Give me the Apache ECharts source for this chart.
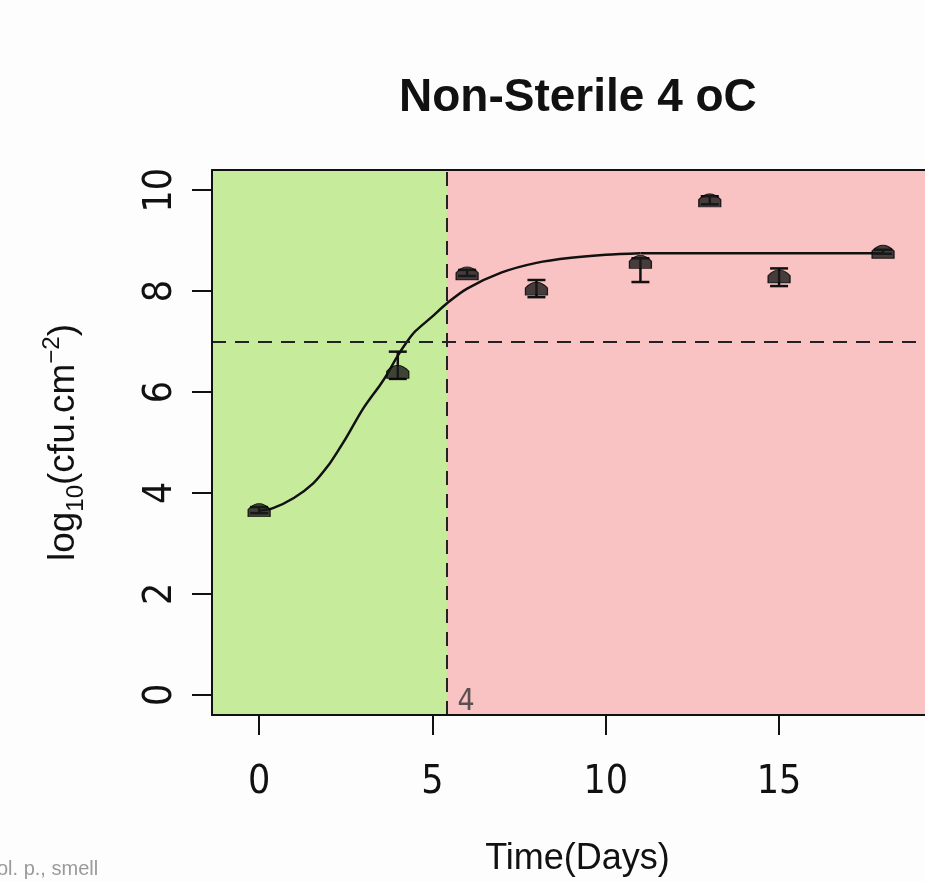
<!DOCTYPE html>
<html>
<head>
<meta charset="utf-8">
<title>Non-Sterile 4 oC</title>
<script src="https://cdn.jsdelivr.net/npm/echarts@6/dist/echarts.min.js"></script>
<style>
  html, body { margin: 0; padding: 0; background: #fdfdfd; }
  #chart { width: 925px; height: 882px; }
</style>
</head>
<body>
<div id="chart"></div>
<script>
'use strict';

// observed counts (days / log10 cfu.cm-2)
var days = [0, 4, 6, 8, 11, 13, 15, 18];
var means = [3.66, 6.40, 8.35, 8.05, 8.58, 9.80, 8.29, 8.78];
var lows = [3.60, 6.26, 8.30, 7.88, 8.18, 9.72, 8.10, 8.74];
var highs = [3.72, 6.80, 8.42, 8.22, 8.65, 9.88, 8.45, 8.82];

// fitted growth curve
var curveX = [0, 0.4, 1, 1.56, 2, 2.28, 2.5, 3, 3.5, 3.7, 4, 4.27, 4.5, 5, 5.42, 6, 7, 8, 9, 10, 11];
var curveY = [3.65, 3.70, 3.90, 4.19, 4.55, 4.84, 5.08, 5.67, 6.15, 6.36, 6.72, 7.00, 7.20, 7.50, 7.76, 8.05, 8.37, 8.56, 8.66, 8.72, 8.75];

// plateau from day 11 on
var plateauX = [11, 18];
var plateauY = [8.75, 8.75];

var xTicks = [0, 5, 10, 15];
var yTicks = [0, 2, 4, 6, 8, 10];

var limitLog = 7;        // spoilage threshold
var shelfLife = 5.42;    // boundary between the two zones
var shelfLabel = '4';

var xMin = -1.36, xMax = 19.21;   // plot is cut at the right edge
var yMin = -0.4, yMax = 10.4;

var tickFont = '"Liberation Sans Narrow", "DejaVu Sans Condensed", Arial, sans-serif';
var nameFont = '"Liberation Sans", Arial, sans-serif';

function zip(a, b) {
    return a.map(function (v, i) { return [v, b[i]]; });
}

var errData = days.map(function (d, i) { return [d, lows[i], highs[i]]; });

function renderErr(params, api) {
    var lo = api.coord([api.value(0), api.value(1)]);
    var hi = api.coord([api.value(0), api.value(2)]);
    var w = 9;
    var st = { stroke: '#111', lineWidth: 2.5 };
    return {
        type: 'group',
        children: [
            { type: 'line', shape: { x1: lo[0], y1: lo[1], x2: hi[0], y2: hi[1] }, style: st },
            { type: 'line', shape: { x1: lo[0] - w, y1: lo[1], x2: lo[0] + w, y2: lo[1] }, style: st },
            { type: 'line', shape: { x1: hi[0] - w, y1: hi[1], x2: hi[0] + w, y2: hi[1] }, style: st }
        ]
    };
}

var chart = echarts.init(document.getElementById('chart'));

var option = {
    backgroundColor: '#fdfdfd',
    animation: false,
    title: {
        text: 'Non-Sterile 4 oC',
        left: 394,
        top: 70,
        textStyle: {
            fontFamily: nameFont,
            fontWeight: 'bold',
            fontSize: 46,
            color: '#111'
        }
    },
    grid: {
        left: 212,
        top: 170,
        bottom: 165,
        right: 0
    },
    xAxis: [{
        type: 'value',
        min: xMin,
        max: xMax,
        z: 5,
        name: 'Time(Days)',
        nameLocation: 'middle',
        nameGap: 126,
        nameTextStyle: { fontFamily: nameFont, fontSize: 36, color: '#111', padding: [0, 0, 0, 18] },
        splitLine: { show: false },
        axisLine: { show: true, onZero: false, lineStyle: { color: '#111', width: 2 } },
        axisTick: { show: true, length: 20, customValues: xTicks, lineStyle: { color: '#111', width: 2 } },
        axisLabel: {
            customValues: xTicks,
            margin: 48,
            fontFamily: tickFont,
            fontSize: 39,
            color: '#111'
        }
    }, {
        type: 'value',
        position: 'top',
        min: xMin,
        max: xMax,
        z: 5,
        splitLine: { show: false },
        axisLine: { show: true, onZero: false, lineStyle: { color: '#111', width: 2 } },
        axisTick: { show: false },
        axisLabel: { show: false }
    }],
    yAxis: {
        type: 'value',
        min: yMin,
        max: yMax,
        z: 5,
        name: '{a|log}{sub|10}{a|(cfu.cm}{sup|−2}{a|)}',
        nameLocation: 'middle',
        nameRotate: 90,
        nameGap: 124,
        nameTextStyle: {
            fontFamily: nameFont,
            color: '#111',
            rich: {
                a: { fontFamily: nameFont, fontSize: 37, lineHeight: 48, color: '#111', verticalAlign: 'middle' },
                sub: { fontFamily: nameFont, fontSize: 24, lineHeight: 24, color: '#111', verticalAlign: 'bottom' },
                sup: { fontFamily: nameFont, fontSize: 24, lineHeight: 24, color: '#111', verticalAlign: 'top' }
            }
        },
        splitLine: { show: false },
        axisLine: { show: true, onZero: false, lineStyle: { color: '#111', width: 2 } },
        axisTick: { show: true, length: 20, customValues: yTicks, lineStyle: { color: '#111', width: 2 } },
        axisLabel: {
            customValues: yTicks,
            rotate: 90,
            margin: 32,
            fontFamily: tickFont,
            fontSize: 39,
            color: '#111'
        }
    },
    graphic: [{
        type: 'text',
        left: -3,
        top: 859,
        style: {
            text: 'ol. p., smell',
            font: '20px "Liberation Sans", Arial, sans-serif',
            fill: '#9a9a9a'
        }
    }],
    series: [{
        // shaded zones + reference lines
        type: 'line',
        data: [],
        z: 1,
        markArea: {
            silent: true,
            data: [
                [{ xAxis: xMin, yAxis: yMin, itemStyle: { color: '#c6ec9b' } }, { xAxis: shelfLife, yAxis: yMax }],
                [{ xAxis: shelfLife, yAxis: yMin, itemStyle: { color: '#fac3c3' } }, { xAxis: xMax, yAxis: yMax }]
            ]
        },
        markLine: {
            silent: true,
            symbol: 'none',
            label: { show: false },
            lineStyle: { color: '#222', width: 2, type: [14, 9] },
            data: [{ xAxis: shelfLife }, { yAxis: limitLog }]
        }
    }, {
        type: 'line',
        data: zip(curveX, curveY),
        smooth: 0.3,
        showSymbol: false,
        z: 3,
        lineStyle: { color: '#111', width: 2.5 }
    }, {
        type: 'line',
        data: zip(plateauX, plateauY),
        showSymbol: false,
        z: 3,
        lineStyle: { color: '#111', width: 2.5 }
    }, {
        type: 'custom',
        data: errData,
        z: 4,
        renderItem: renderErr,
        encode: { x: 0, y: [1, 2] }
    }, {
        type: 'scatter',
        data: zip(days, means),
        z: 4,
        symbol: 'path://M0,10 L0,5 Q10,-3 20,5 L20,10 Z',
        symbolSize: [22, 13],
        itemStyle: { color: '#1a1a1a', borderColor: '#000', borderWidth: 1 }
    }, {
        type: 'scatter',
        data: [[5.97, -0.14]],
        z: 4,
        symbolSize: 0,
        label: {
            show: true,
            position: 'inside',
            formatter: shelfLabel,
            fontFamily: tickFont,
            fontSize: 30,
            color: '#333'
        }
    }]
};

chart.setOption(option);
</script>
</body>
</html>
